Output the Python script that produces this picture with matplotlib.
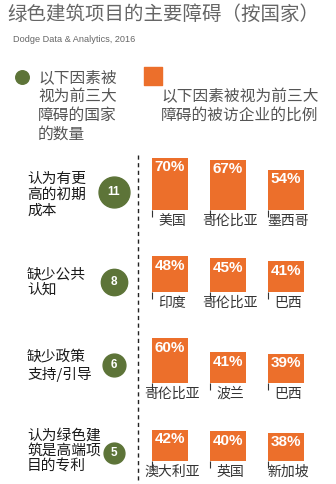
import matplotlib.pyplot as plt
import numpy as np

# 绿色建筑项目的主要障碍（按国家） - Dodge Data & Analytics, 2016

barriers = ['认为有更\n高的初期\n成本', '缺少公共\n认知', '缺少政策\n支持/引导', '认为绿色建\n筑是高端项\n目的专利']
country_counts = [11, 8, 6, 5]
countries = [['美国', '哥伦比亚', '墨西哥'],
             ['印度', '哥伦比亚', '巴西'],
             ['哥伦比亚', '波兰', '巴西'],
             ['澳大利亚', '英国', '新加坡']]
shares = [[70, 67, 54],
          [48, 45, 41],
          [60, 41, 39],
          [42, 40, 38]]

GREEN = '#5d7438'
ORANGE = '#ec6f2b'
CJK = ['Noto Sans CJK SC', 'DejaVu Sans']

W, H = 336, 484
fig = plt.figure(figsize=(W / 100, H / 100), dpi=100, facecolor='white')

# background axes in pixel units for the text and the left column
ax = fig.add_axes([0, 0, 1, 1])
ax.set_xlim(0, W)
ax.set_ylim(H, 0)
ax.axis('off')

ax.text(7, 14, '绿色建筑项目的主要障碍（按国家）', fontsize=14, color='#666666',
        family=CJK, va='center', ha='left')
ax.text(13, 40, 'Dodge Data & Analytics, 2016', fontsize=6.6, color='#666666',
        family='Liberation Sans', va='center', ha='left')

# legend
ax.scatter([22], [77], s=95, color=GREEN, zorder=3)
ax.text(38, 69, '以下因素被\n视为前三大\n障碍的国家\n的数量', fontsize=11.3, color='#555555',
        family=CJK, va='top', ha='left', linespacing=1.15)
ax.scatter([153], [76], s=165, marker='s', color=ORANGE, zorder=3)
ax.text(161, 88, '以下因素被视为前三大\n障碍的被访企业的比例', fontsize=11.3, color='#555555',
        family=CJK, va='top', ha='left', linespacing=1.15)

# dashed separator
ax.plot([138, 138], [155, H], color='#222222', lw=1, ls=(0, (3, 2.5)))

row_base = [210, 292, 383, 461]
row_mid = [195, 282, 366, 451]
circle_y = [192, 282, 365, 453]

for r in range(len(barriers)):
    ax.text(27, row_mid[r], barriers[r], fontsize=10.6, color='#1a1a1a', family=CJK,
            va='center', ha='left', linespacing=1.15)
    # circle area scales with the number of countries
    ax.scatter([114], [circle_y[r]], s=45 * country_counts[r], color=GREEN, zorder=3)
    ax.text(114, circle_y[r], str(country_counts[r]), fontsize=8.5, color='white',
            fontweight='bold', family='Liberation Sans', ha='center', va='center', zorder=4)

    # bar axes: 100% = 75 px
    rax = fig.add_axes([141 / W, (H - row_base[r]) / H, 174 / W, 75 / H])
    rax.set_xlim(-0.5, 2.5)
    rax.set_ylim(0, 100)
    rax.axis('off')
    x = np.arange(3)
    bw = 0.62
    rax.bar(x, shares[r], width=bw, color=ORANGE)
    rax.vlines(x - bw / 2, -9, 0, color='#333333', lw=0.8, clip_on=False)
    for i in range(3):
        rax.annotate(f'{shares[r][i]}%', (x[i], shares[r][i]), xytext=(0, -7),
                     textcoords='offset points', ha='center', va='center',
                     color='white', fontweight='bold', fontsize=11,
                     family='Liberation Sans')
        rax.annotate(countries[r][i], (x[i], 0), xytext=(1.5, -8),
                     textcoords='offset points', ha='center', va='center',
                     color='#333333', fontsize=10, family=CJK, annotation_clip=False)

fig.savefig('out.png', dpi=100, facecolor='white')
